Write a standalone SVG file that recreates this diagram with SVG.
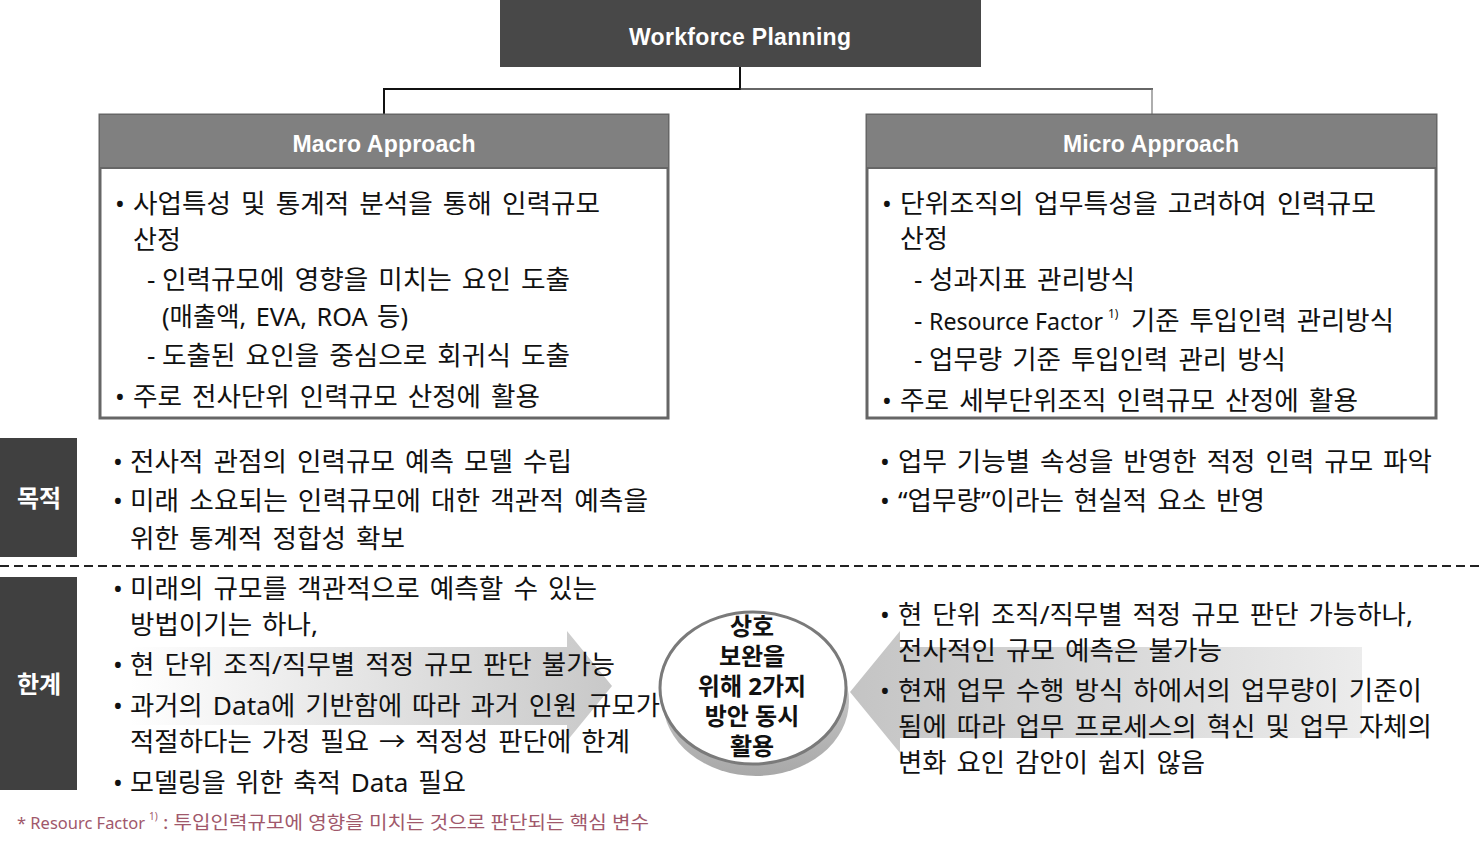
<svg xmlns="http://www.w3.org/2000/svg" width="1482" height="867" viewBox="0 0 1482 867">
<defs>
<style>
.t{font-family:"Noto Sans","Noto Sans CJK KR",sans-serif;font-size:26px;word-spacing:3px;fill:#111}
.bu{font-family:"Noto Sans","Noto Sans CJK KR",sans-serif;font-size:26px;fill:#111}
.hd{font-family:"Liberation Sans",Arial,sans-serif;font-weight:bold;font-size:23px;fill:#fff;text-anchor:middle}
.lb{font-family:"Noto Sans CJK KR",sans-serif;font-weight:bold;font-size:24px;fill:#fff;text-anchor:middle}
.el{font-family:"Noto Sans","Noto Sans CJK KR",sans-serif;font-weight:bold;font-size:24px;fill:#111;text-anchor:middle}
.fn{font-family:"Noto Sans","Noto Sans CJK KR",sans-serif;font-size:18px;fill:#a0586b}
.box{fill:#fff;stroke:#666;stroke-width:3}
.hbar{fill:#808080}
.lab{fill:#404040}
</style>
<linearGradient id="gL" x1="130" y1="0" x2="612" y2="0" gradientUnits="userSpaceOnUse">
<stop offset="0" stop-color="#ffffff"/>
<stop offset="1" stop-color="#c8c8c8"/>
</linearGradient>
<linearGradient id="gR" x1="850" y1="0" x2="1362" y2="0" gradientUnits="userSpaceOnUse">
<stop offset="0" stop-color="#c4c4c4"/>
<stop offset="1" stop-color="#ececec"/>
</linearGradient>
<linearGradient id="gS" x1="0" y1="640" x2="0" y2="776" gradientUnits="userSpaceOnUse">
<stop offset="0" stop-color="#d6d6d6"/>
<stop offset="1" stop-color="#a8a8a8"/>
</linearGradient>
</defs>
<rect width="1482" height="867" fill="#fff"/>

<g id="connectors">
<line x1="740" y1="67" x2="740" y2="89" stroke="#111" stroke-width="2"/>
<line x1="383" y1="89" x2="741" y2="89" stroke="#111" stroke-width="2"/>
<line x1="740" y1="89" x2="1153" y2="89" stroke="#333" stroke-width="1.5"/>
<line x1="384" y1="88" x2="384" y2="114" stroke="#111" stroke-width="2"/>
<line x1="1152" y1="89" x2="1152" y2="114" stroke="#777" stroke-width="1.2"/>
</g>

<g id="top">
<rect x="500" y="0" width="481" height="67" fill="#484848"/>
<text class="hd" x="740" y="45" textLength="222">Workforce Planning</text>
</g>

<g id="macro">
<rect class="box" x="100" y="115" width="568" height="303"/>
<rect class="hbar" x="100" y="115" width="568" height="53"/>
<line x1="100" y1="168" x2="668" y2="168" stroke="#666" stroke-width="2"/>
<text class="hd" x="384" y="152" textLength="183">Macro Approach</text>
<text class="bu" x="115" y="213">•</text>
<text class="t" x="133" y="213" textLength="467" lengthAdjust="spacingAndGlyphs">사업특성 및 통계적 분석을 통해 인력규모</text>
<text class="t" x="133" y="249">산정</text>
<text class="t" x="147" y="289">-</text>
<text class="t" x="162" y="289" textLength="408" lengthAdjust="spacingAndGlyphs">인력규모에 영향을 미치는 요인 도출</text>
<text class="t" x="162" y="326" textLength="246" lengthAdjust="spacingAndGlyphs">(매출액, EVA, ROA 등)</text>
<text class="t" x="147" y="365">-</text>
<text class="t" x="162" y="365" textLength="408" lengthAdjust="spacingAndGlyphs">도출된 요인을 중심으로 회귀식 도출</text>
<text class="bu" x="115" y="406">•</text>
<text class="t" x="133" y="406" textLength="407" lengthAdjust="spacingAndGlyphs">주로 전사단위 인력규모 산정에 활용</text>
</g>

<g id="micro">
<rect class="box" x="867" y="115" width="569" height="303"/>
<rect class="hbar" x="867" y="115" width="569" height="53"/>
<line x1="867" y1="168" x2="1436" y2="168" stroke="#666" stroke-width="2"/>
<text class="hd" x="1151" y="152" textLength="176">Micro Approach</text>
<text class="bu" x="882" y="213">•</text>
<text class="t" x="900" y="213" textLength="476" lengthAdjust="spacingAndGlyphs">단위조직의 업무특성을 고려하여 인력규모</text>
<text class="t" x="900" y="248">산정</text>
<text class="t" x="914" y="289">-</text>
<text class="t" x="929" y="289" textLength="206" lengthAdjust="spacingAndGlyphs">성과지표 관리방식</text>
<text class="t" x="914" y="330">-</text>
<text class="t" y="330"><tspan x="929" style="font-size:24px;word-spacing:0" textLength="174" lengthAdjust="spacingAndGlyphs">Resource Factor</tspan><tspan x="1108" y="318" style="font-size:12px">1)</tspan><tspan x="1131" y="330" textLength="263" lengthAdjust="spacingAndGlyphs">기준 투입인력 관리방식</tspan></text>
<text class="t" x="914" y="369">-</text>
<text class="t" x="929" y="369" textLength="357" lengthAdjust="spacingAndGlyphs">업무량 기준 투입인력 관리 방식</text>
<text class="bu" x="882" y="410">•</text>
<text class="t" x="900" y="410" textLength="458" lengthAdjust="spacingAndGlyphs">주로 세부단위조직 인력규모 산정에 활용</text>
</g>

<g id="purpose-label">
<rect class="lab" x="0" y="438" width="77" height="119"/>
<text class="lb" x="39" y="507">목적</text>
</g>

<g id="purpose-macro">
<text class="bu" x="113" y="471">•</text>
<text class="t" x="130" y="471" textLength="442" lengthAdjust="spacingAndGlyphs">전사적 관점의 인력규모 예측 모델 수립</text>
<text class="bu" x="113" y="510">•</text>
<text class="t" x="130" y="510" textLength="518" lengthAdjust="spacingAndGlyphs">미래 소요되는 인력규모에 대한 객관적 예측을</text>
<text class="t" x="130" y="548" textLength="275" lengthAdjust="spacingAndGlyphs">위한 통계적 정합성 확보</text>
</g>

<g id="purpose-micro">
<text class="bu" x="880" y="471">•</text>
<text class="t" x="898" y="471" textLength="534" lengthAdjust="spacingAndGlyphs">업무 기능별 속성을 반영한 적정 인력 규모 파악</text>
<text class="bu" x="880" y="510">•</text>
<text class="t" x="898" y="510" textLength="367" lengthAdjust="spacingAndGlyphs">“업무량”이라는 현실적 요소 반영</text>
</g>

<line id="divider" x1="0" y1="566" x2="1482" y2="566" stroke="#222" stroke-width="2" stroke-dasharray="9 5"/>

<g id="limit-label">
<rect class="lab" x="0" y="577" width="77" height="213"/>
<text class="lb" x="39" y="693">한계</text>
</g>

<g id="arrows">
<polygon points="130,647 567,647 567,631 612,686 567,741 567,725 130,725" fill="url(#gL)"/>
<polygon points="1362,647 900,647 900,631 850,692 900,753 900,738 1362,738" fill="url(#gR)"/>
</g>

<g id="limit-macro">
<text class="bu" x="113" y="598">•</text>
<text class="t" x="130" y="598" textLength="467" lengthAdjust="spacingAndGlyphs">미래의 규모를 객관적으로 예측할 수 있는</text>
<text class="t" x="130" y="634" textLength="188" lengthAdjust="spacingAndGlyphs">방법이기는 하나,</text>
<text class="bu" x="113" y="674">•</text>
<text class="t" x="130" y="674" textLength="485" lengthAdjust="spacingAndGlyphs">현 단위 조직/직무별 적정 규모 판단 불가능</text>
<text class="bu" x="113" y="715">•</text>
<text class="t" x="130" y="715" textLength="530" lengthAdjust="spacingAndGlyphs">과거의 Data에 기반함에 따라 과거 인원 규모가</text>
<text class="t" x="130" y="751" textLength="500" lengthAdjust="spacingAndGlyphs">적절하다는 가정 필요 → 적정성 판단에 한계</text>
<text class="bu" x="113" y="792">•</text>
<text class="t" x="130" y="792" textLength="336" lengthAdjust="spacingAndGlyphs">모델링을 위한 축적 Data 필요</text>
</g>

<g id="center">
<ellipse cx="756" cy="701" rx="93" ry="75" fill="url(#gS)"/>
<ellipse cx="753" cy="688" rx="93" ry="76" fill="#fff" stroke="#7a7a7a" stroke-width="3"/>
<text class="el"><tspan x="752" y="635">상호</tspan><tspan x="752" y="665">보완을</tspan><tspan x="752" y="695">위해 2가지</tspan><tspan x="752" y="725">방안 동시</tspan><tspan x="752" y="755">활용</tspan></text>
</g>

<g id="limit-micro">
<text class="bu" x="880" y="624">•</text>
<text class="t" x="898" y="624" textLength="515" lengthAdjust="spacingAndGlyphs">현 단위 조직/직무별 적정 규모 판단 가능하나,</text>
<text class="t" x="898" y="660" textLength="324" lengthAdjust="spacingAndGlyphs">전사적인 규모 예측은 불가능</text>
<text class="bu" x="880" y="700">•</text>
<text class="t" x="898" y="700" textLength="524" lengthAdjust="spacingAndGlyphs">현재 업무 수행 방식 하에서의 업무량이 기준이</text>
<text class="t" x="898" y="736" textLength="534" lengthAdjust="spacingAndGlyphs">됨에 따라 업무 프로세스의 혁신 및 업무 자체의</text>
<text class="t" x="898" y="772" textLength="307" lengthAdjust="spacingAndGlyphs">변화 요인 감안이 쉽지 않음</text>
</g>

<g id="footnote">
<text class="fn" y="829"><tspan x="17" style="font-size:16.5px" textLength="128" lengthAdjust="spacingAndGlyphs">* Resourc Factor</tspan><tspan x="149" y="820" style="font-size:10px">1)</tspan><tspan x="163" y="829" textLength="486" lengthAdjust="spacingAndGlyphs">: 투입인력규모에 영향을 미치는 것으로 판단되는 핵심 변수</tspan></text>
</g>
</svg>
